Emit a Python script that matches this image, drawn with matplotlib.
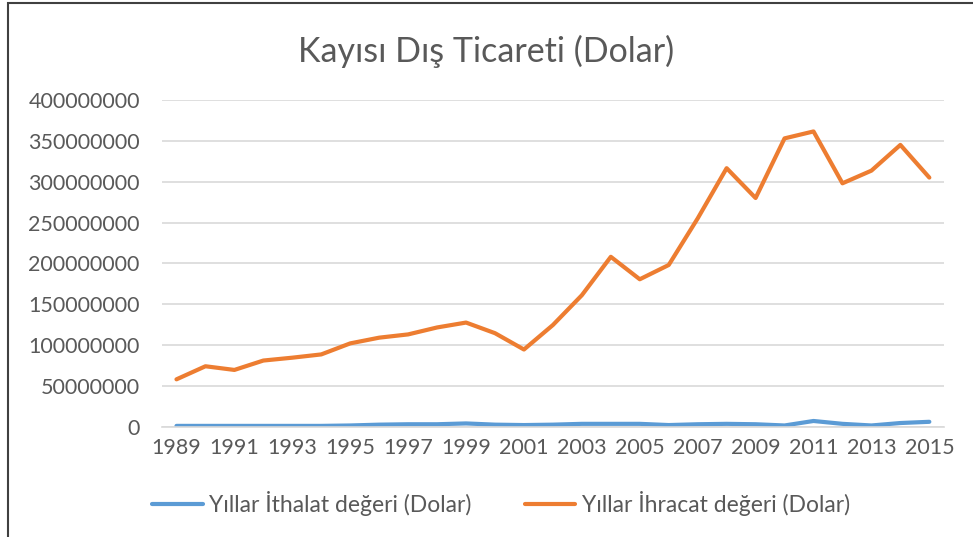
import matplotlib
matplotlib.use("Agg")
import matplotlib.pyplot as plt
from matplotlib.patches import Rectangle

years = list(range(1989, 2016))
ithalat = [1.0e6, 1.0e6, 1.0e6, 1.0e6, 1.0e6, 1.0e6, 1.5e6, 2.5e6, 3.0e6, 3.0e6,
           4.0e6, 2.5e6, 2.0e6, 2.5e6, 3.5e6, 3.5e6, 3.5e6, 2.0e6, 3.0e6, 3.5e6,
           3.0e6, 1.5e6, 7.0e6, 3.5e6, 1.5e6, 4.5e6, 6.0e6]
ihracat = [58e6, 74e6, 69.5e6, 81e6, 84.5e6, 88.5e6, 102e6, 109e6, 113e6, 121.5e6,
           127.5e6, 114.5e6, 94.5e6, 124.5e6, 161e6, 208e6, 180.5e6, 198e6, 255e6, 316.5e6,
           280e6, 353e6, 361.5e6, 298e6, 313.5e6, 345e6, 305e6]
yticks = list(range(0, 400000001, 50000000))
xlabels = years[::2]

plt.rcParams['font.family'] = ['Lato', 'DejaVu Sans']
grey = '#595959'

fig = plt.figure(figsize=(9.73, 5.37), dpi=100)
ax = fig.add_axes([0.1665, 0.2054, 0.8035, 0.6084])

ax.plot(years, ithalat, color='#5B9BD5', lw=3, label='Yıllar İthalat değeri (Dolar)',
        solid_capstyle='round')
ax.plot(years, ihracat, color='#ED7D31', lw=3, label='Yıllar İhracat değeri (Dolar)',
        solid_capstyle='round')

ax.set_xlim(1988.5, 2015.5)
ax.set_ylim(0, 400000000)
ax.set_yticks(yticks)
ax.set_yticklabels([str(v) for v in yticks])
ax.set_xticks(xlabels)
ax.set_xticklabels([str(v) for v in xlabels])
ax.tick_params(axis='both', length=0, labelsize=15.5, labelcolor=grey)
ax.tick_params(axis='y', pad=16)
ax.tick_params(axis='x', pad=8)
ax.grid(axis='y', color='#D9D9D9', lw=1.2)
ax.set_axisbelow(True)
for s in ['top', 'right', 'left']:
    ax.spines[s].set_visible(False)
ax.spines['bottom'].set_color('#D9D9D9')
ax.spines['bottom'].set_linewidth(1.2)

fig.text(0.5, 0.905, 'Kayısı Dış Ticareti (Dolar)', ha='center', va='center',
         fontsize=24.5, color=grey)

fig.legend(loc='center', bbox_to_anchor=(0.515, 0.063), ncol=2, frameon=False,
           fontsize=16.5, labelcolor=grey, handlelength=2.2, columnspacing=2.3,
           handletextpad=0.3)

fig.add_artist(Rectangle((8 / 973, -0.1), 1.2, 0.1 + 1 - 3 / 537,
                         transform=fig.transFigure, fill=False,
                         edgecolor='#404040', lw=1.5))

fig.savefig('out.png', dpi=100)
